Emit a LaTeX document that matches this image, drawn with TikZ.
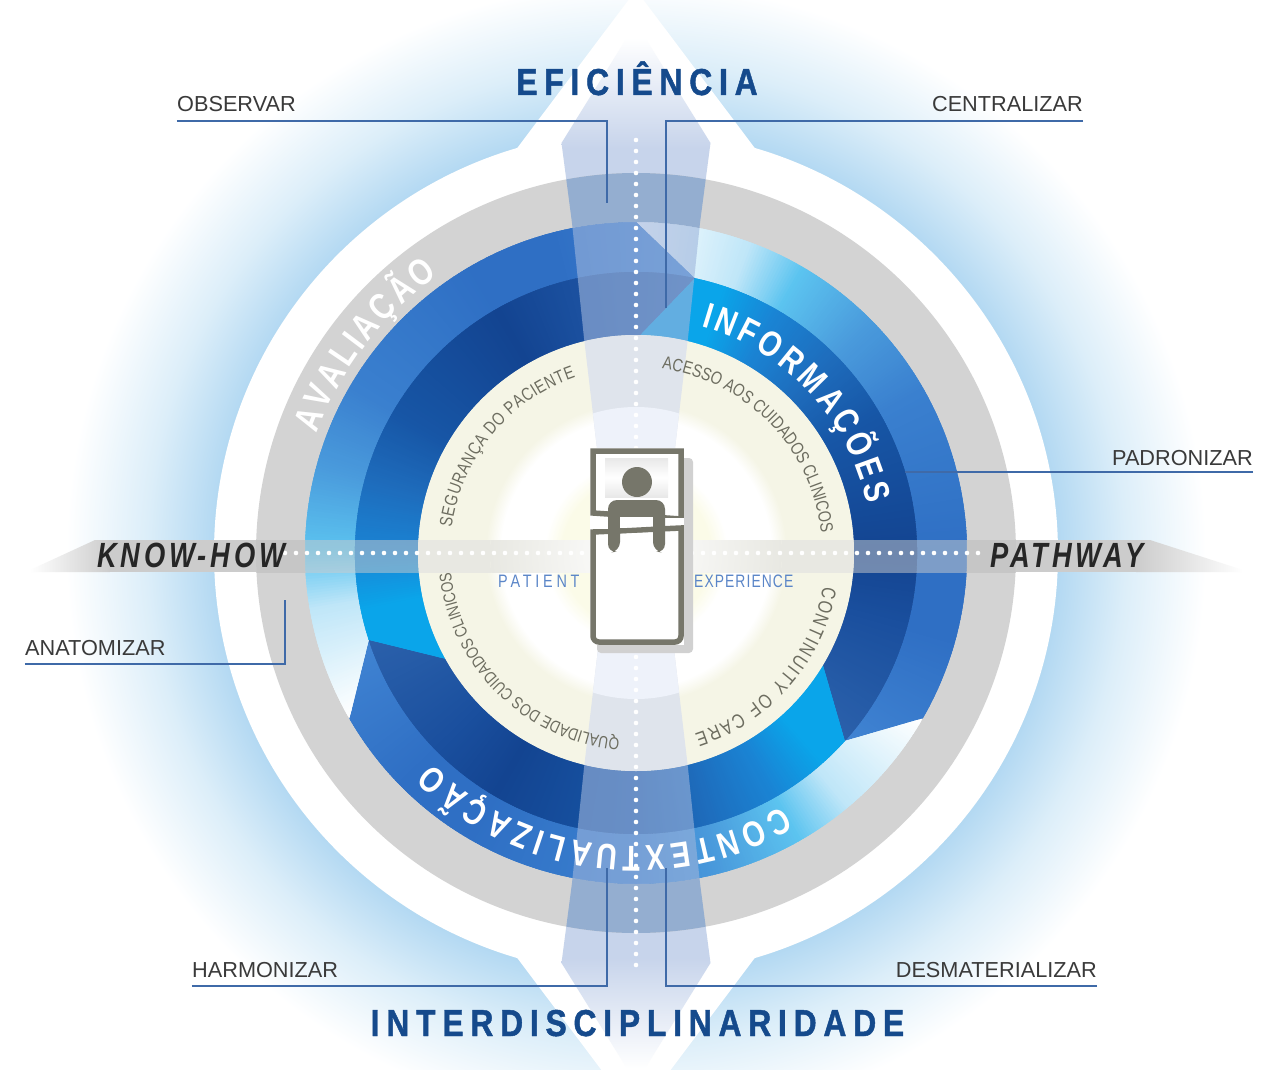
\documentclass[tikz,border=0pt]{standalone}
\usepackage{fontspec}
\usetikzlibrary{decorations.text,calc}
\setmainfont{Liberation Sans}
\newfontfamily\labelfont{Liberation Sans}
\newfontfamily\headfont[FakeStretch=0.85,LetterSpace=18,BoldFeatures={FakeBold=1.2}]{Liberation Sans}
\newfontfamily\headwide[FakeStretch=0.85,LetterSpace=18,BoldFeatures={FakeBold=1.2}]{Liberation Sans}
\newfontfamily\sidefont[FakeStretch=0.78,LetterSpace=11]{Liberation Sans}
\newfontfamily\arcfont[FakeStretch=0.8]{Liberation Sans}
\newfontfamily\pfont[FakeStretch=0.8,LetterSpace=21]{Liberation Sans}
\newfontfamily\efont[FakeStretch=0.77,LetterSpace=6]{Liberation Sans}
\definecolor{glowA}{HTML}{B2D8F2}
\definecolor{glowB}{HTML}{DCEEF9}
\definecolor{ringgray}{HTML}{D3D3D3}
\definecolor{creamc}{HTML}{F5F5E6}
\definecolor{yellowc}{HTML}{FBFBE8}
\definecolor{bedc}{HTML}{76766A}
\definecolor{linec}{HTML}{3F6AA8}
\definecolor{navy}{HTML}{154A8C}
\definecolor{labelc}{HTML}{3A3A3A}
\definecolor{arcc}{HTML}{6D6D60}
\definecolor{blueP}{HTML}{5B86C8}
\definecolor{vpale}{HTML}{C7D4EB}
\definecolor{vmid}{HTML}{DFE7F4}
\definecolor{vgray}{HTML}{94AED0}
\definecolor{vover}{RGB}{158,181,220}
\definecolor{vcream}{HTML}{DFE4EC}
\definecolor{vwhite}{HTML}{EEF2FA}
\definecolor{hgray}{HTML}{CCCCCC}
\definecolor{hring}{HTML}{C6C6C6}
\definecolor{hcream}{HTML}{E8E8E2}
\definecolor{oA}{HTML}{FFFFFF}\definecolor{oB}{HTML}{BFE6F8}\definecolor{oC}{HTML}{5CC4F0}
\definecolor{oD}{HTML}{4A9BDC}\definecolor{oE}{HTML}{3A80CF}\definecolor{oF}{HTML}{2F6FC4}
\definecolor{oG}{HTML}{4286D4}
\definecolor{iA}{HTML}{0AA5EA}\definecolor{iB}{HTML}{1A84D4}\definecolor{iC}{HTML}{1E6CBC}
\definecolor{iD}{HTML}{1756A6}\definecolor{iE}{HTML}{134491}\definecolor{iF}{HTML}{1A4F9E}
\definecolor{iG}{HTML}{2C62AC}
\pgfdeclareradialshading{glowshade}{\pgfpoint{0bp}{0bp}}{%
  color(0bp)=(glowA);color(17.5bp)=(glowA);color(20.4bp)=(glowB);color(23.75bp)=(white);color(50bp)=(white)}
\pgfdeclareradialshading{creamshade}{\pgfpoint{0bp}{0bp}}{%
  color(0bp)=(yellowc);color(8.5bp)=(yellowc);color(10.5bp)=(white);color(15.5bp)=(white);color(17.25bp)=(creamc);color(50bp)=(creamc)}
\newcommand\paintstops[2]{%
  \foreach \sA/\sB/\cA/\cB in {#2}{%
    \pgfmathtruncatemacro\nn{2*(\sB-\sA)-1}%
    \foreach \i in {0,...,\nn}{%
      \pgfmathsetmacro\mm{50*\i/(\sB-\sA)}%
      \pgfmathsetmacro\wa{#1-\sA-\i/2}%
      \pgfmathsetmacro\wb{\wa-1.2}%
      \fill[\cB!\mm!\cA] (0,0)--(\wa:420)--(\wb:420)--cycle;
    }%
  }%
}
\newcommand\spiralsec[1]{%
  \pgfmathsetmacro\Aa{#1}\pgfmathsetmacro\Ab{#1-1}\pgfmathsetmacro\Ac{#1-12}%
  \pgfmathsetmacro\Ad{#1-132}\pgfmathsetmacro\Ae{#1-121}\pgfmathsetmacro\Af{#1-120}%
  \begin{scope}
    \clip (\Aa:331) -- (\Ac:281) arc[start angle=\Ac,end angle=\Ad,radius=281] -- (\Af:331) arc[start angle=\Af,end angle=\Aa,radius=331] -- cycle;
    \paintstops{#1}{0/20/oA/oB,20/30/oB/oC,30/45/oC/oD,45/60/oD/oE,60/90/oE/oF,90/105/oF/oF,105/134/oF/oG}
  \end{scope}
  \begin{scope}
    \clip (\Ab:218) -- (\Ac:281) arc[start angle=\Ac,end angle=\Ad,radius=281] -- (\Ae:218) arc[start angle=\Ae,end angle=\Ab,radius=218] -- cycle;
    \paintstops{#1}{0/18/iA/iA,18/30/iA/iB,30/45/iB/iC,45/60/iC/iD,60/90/iD/iE,90/105/iE/iF,105/134/iF/iG}
  \end{scope}
}
\newcommand\arctext[5]{% radius, start, end, format, text
  \path[decorate,decoration={text along path,text align={fit to path},text={|#4|#5}}]
    (#2:#1) arc[start angle=#2,end angle=#3,radius=#1];
}
\newcommand\vbandpath{(-74.5,410) -- (-64,330) -- (-52,215) -- (-39,105) -- (-27,0) -- (-39,-105) -- (-52,-215) -- (-64,-330) -- (-74.5,-410) -- (0,-530) -- (74.5,-410) -- (64,-330) -- (52,-215) -- (39,-105) -- (27,0) -- (39,105) -- (52,215) -- (64,330) -- (74.5,410) -- (0,530) -- cycle}
\tikzset{
  conn/.style={draw=linec,line width=1.6pt},
  lab/.style={inner sep=0pt,font=\labelfont\fontsize{21.7}{23}\selectfont,text=labelc},
  dots/.style={white,line width=4.6pt,line cap=round,dash pattern=on 0pt off 11pt},
  bedline/.style={draw=bedc,line width=5.5pt},
}
\begin{document}
\begin{tikzpicture}[x=1pt,y=1pt]
\useasboundingbox (-636,-516) rectangle (627,553);
\fill[white] (-636,-516) rectangle (627,553);
% glow
\begin{scope}
  \clip (-636,-516) rectangle (627,553);
  \shade[shading=glowshade] (0,0) circle (600);
\end{scope}
% white circle with arrows
\fill[white] (0,0) circle (422);
\fill[white] (-124,398) -- (0,563) -- (124,398) -- (124,-398) -- (0,-563) -- (-124,-398) -- cycle;
% vertical band, outside parts
\begin{scope}
  \clip \vbandpath;
  \fill[vpale] (-80,-405) rectangle (80,405);
  \shade[top color=white,middle color=vmid,bottom color=vpale] (-80,405) rectangle (80,515);
  \shade[bottom color=white,middle color=vmid,top color=vpale] (-80,-515) rectangle (80,-405);
\end{scope}
% horizontal band, outside
\shade[left color=white,right color=hgray] (-606,-17) -- (-541,13) -- (-526,13) -- (-526,-19) -- (-606,-19) -- cycle;
\fill[hgray] (-526.5,13) rectangle (-370,-19);
\shade[right color=white,left color=hgray] (607,-17) -- (514,13) -- (500,13) -- (500,-19) -- (607,-19) -- cycle;
\fill[hgray] (500.5,13) rectangle (370,-19);
% gray ring
\fill[ringgray] (0,0) circle (380);
% spiral sections
\spiralsec{90}
\spiralsec{-30}
\spiralsec{-150}
% cream disc
\shade[shading=creamshade] (0,0) circle (218);
% vertical band overlay
\begin{scope}
  \clip \vbandpath;
  \fill[vgray,even odd rule] (0,0) circle (380) circle (331);
  \fill[vover,opacity=.6,even odd rule] (0,0) circle (331) circle (218);
  \fill[vcream] (0,0) circle (218);
  \fill[vwhite] (0,0) circle (146);
\end{scope}
% horizontal band overlay
\begin{scope}
  \clip (-380,13) rectangle (380,-19);
  \fill[hring,even odd rule] (0,0) circle (380) circle (331);
  \fill[hgray,opacity=.5,even odd rule] (0,0) circle (331) circle (218);
  \fill[hcream,even odd rule] (0,0) circle (218) circle (146);
  \shade[inner color=white,outer color=hcream] (0,0) circle (146);
\end{scope}
% dotted axes
\coordinate (vt) at (0,413);
\coordinate (vb) at (0,-417);
\coordinate (hl) at (-351,0);
\coordinate (hr) at (349,0);
\draw[dots] (vt) -- (vb);
\draw[dots] (hl) -- (hr);
% bed
\fill[hgray!90!white,rounded corners=4pt] (-39,95) rectangle (57,-100);
\fill[white] (-46,105) rectangle (48,-92);
\draw[bedline,fill=white] (-43,40) -- (-43,102) -- (45,102) -- (45,34) -- cycle;
\shade[top color=black!9,bottom color=black!9,middle color=white] (-31,95) rectangle (32,56);
\draw[bedline,fill=white] (-43,21) -- (-43,-83) arc[start angle=180,end angle=270,radius=6] -- (39,-89) arc[start angle=270,end angle=360,radius=6] -- (45,25) -- cycle;
\fill[bedc] (1,71) circle (15);
\fill[white] (-46,33) rectangle (-28,24);
\fill[white] (29,35) rectangle (48,28);
\fill[bedc,rounded corners=9pt] (-28,0) -- (-28,53) -- (29,53) -- (29,0) -- (17,2) -- (17,36) -- (-16,36) -- (-16,2) -- cycle;
\fill[white] (-16,36) rectangle (17,25);
\draw[bedc,line width=5pt] (-28,21.5) -- (29,24.5);
% arc texts
\arctext{341}{159.5}{125.5}{\arcfont\fontsize{37}{40}\selectfont\bfseries\color{white}}{AVALIAÇÃO}
\arctext{236}{74}{12}{\arcfont\fontsize{36}{40}\selectfont\bfseries\color{white}}{INFORMAÇÕES}
\arctext{293}{-60}{-134}{\arcfont\fontsize{36}{40}\selectfont\bfseries\color{white}}{CONTEXTUALIZAÇÃO}
\arctext{186}{172}{109}{\arcfont\fontsize{18}{20}\selectfont\color{arcc}}{SEGURANÇA DO PACIENTE}
\arctext{186}{82}{7}{\arcfont\fontsize{18}{20}\selectfont\color{arcc}}{ACESSO AOS CUIDADOS CLINICOS}
\arctext{190}{-10}{-72}{\arcfont\fontsize{20}{22}\selectfont\color{arcc}}{CONTINUITY OF CARE}
\arctext{186}{-95}{-174}{\arcfont\fontsize{17}{20}\selectfont\color{arcc}}{QUALIDADE DOS CUIDADOS CLINICOS}
% headings
\node[inner sep=0pt,anchor=base,text=navy,font=\headfont\fontsize{37.5}{40}\selectfont\bfseries] (efi) at (1,458) {EFICIÊNCIA};
\node[inner sep=0pt,anchor=base,text=navy,font=\headwide\fontsize{37.5}{40}\selectfont\bfseries] (inter) at (1.5,-483) {INTERDISCIPLINARIDADE};
\node[inner sep=0pt,anchor=base west,text=black!85,font=\sidefont\fontsize{35}{38}\selectfont\bfseries\itshape] (know) at (-539,-14) {KNOW-HOW};
\node[inner sep=0pt,anchor=base west,text=black!85,font=\sidefont\fontsize{35}{38}\selectfont\bfseries\itshape] (path) at (354,-14) {PATHWAY};
\node[inner sep=0pt,anchor=base west,text=blueP,font=\pfont\fontsize{18}{20}\selectfont] (pat) at (-138,-34) {PATIENT};
\node[inner sep=0pt,anchor=base west,text=blueP,font=\efont\fontsize{18}{20}\selectfont] (exp) at (58,-34) {EXPERIENCE};
% labels
\node[lab,anchor=base west] (obs) at (-459,441) {OBSERVAR};
\node[lab,anchor=base east] (cen) at (447,441) {CENTRALIZAR};
\node[lab,anchor=base east] (pad) at (617,88) {PADRONIZAR};
\node[lab,anchor=base west] (ana) at (-611,-102) {ANATOMIZAR};
\node[lab,anchor=base west] (har) at (-444,-424) {HARMONIZAR};
\node[lab,anchor=base east] (des) at (461,-424) {DESMATERIALIZAR};
% connectors
\coordinate (obsE) at (-29,432); \coordinate (obsT) at (-29,350);
\coordinate (cenE) at (30,432);  \coordinate (cenT) at (30,245);
\coordinate (padT) at (269,81);
\coordinate (anaE) at (-351,-111); \coordinate (anaT) at (-351,-47);
\coordinate (harE) at (-29,-433); \coordinate (harT) at (-29,-315);
\coordinate (desE) at (30,-433); \coordinate (desT) at (30,-315);
\draw[conn] ([yshift=-9pt]obs.base west) -- (obsE) -- (obsT);
\draw[conn] ([yshift=-9pt]cen.base east) -- (cenE) -- (cenT);
\draw[conn] ([yshift=-7pt]pad.base east) -- (padT);
\draw[conn] ([yshift=-9pt]ana.base west) -- (anaE) -- (anaT);
\draw[conn] ([yshift=-9pt]har.base west) -- (harE) -- (harT);
\draw[conn] ([yshift=-9pt]des.base east) -- (desE) -- (desT);
\end{tikzpicture}
\end{document}
